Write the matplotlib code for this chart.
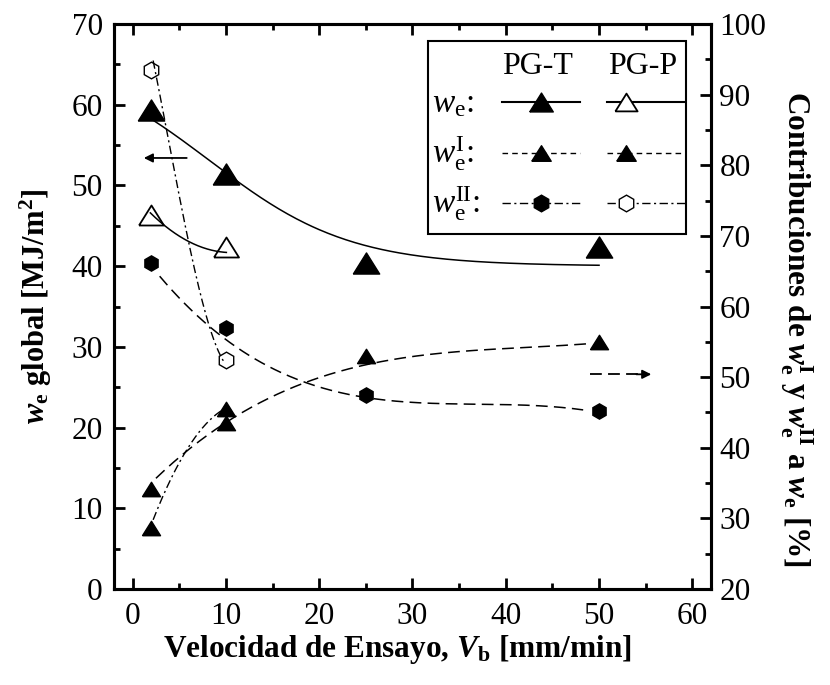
import numpy as np
import matplotlib
matplotlib.use('Agg')
import matplotlib.pyplot as plt
from matplotlib.patches import Rectangle

plt.rcParams['font.family'] = ['Liberation Serif', 'DejaVu Serif']
plt.rcParams['mathtext.fontset'] = 'custom'
plt.rcParams['mathtext.rm'] = 'Liberation Serif'
plt.rcParams['mathtext.it'] = 'Liberation Serif:italic'
plt.rcParams['mathtext.bf'] = 'Liberation Serif:bold'
plt.rcParams['mathtext.bfit'] = 'Liberation Serif:italic:bold'
plt.rcParams['lines.scale_dashes'] = False

# measured points
speed_T = [2, 10, 25, 50]
speed_P = [2, 10]
we_T = [59.4, 51.4, 40.4, 42.4]
we_P = [46.3, 42.4]
weI_T = [34.2, 43.5, 53.0, 55.0]
weII_T = [66.2, 57.0, 47.5, 45.2]
weI_P = [28.6, 45.5]
weII_P = [93.5, 52.4]

# fit lines of the original
fit_we_T_x = [2.2, 10, 21.1, 26.5, 31.8, 37.2, 50]
fit_we_T_y = [58.1, 51.5, 44.1, 42.1, 40.9, 40.6, 40.2]
fit_we_P_x = [1.9, 6.1, 10.05]
fit_we_P_y = [46.6, 43.0, 41.7]
fit_weI_T_x = [2.5, 5.8, 10, 11.8, 19, 26.5, 37.2, 48.7]
fit_weI_T_y = [35.7, 39.4, 43.7, 45.1, 49.4, 52.1, 53.9, 54.7]
fit_weII_T_x = [2.9, 8.3, 10, 19, 26.5, 37.2, 48.3]
fit_weII_T_y = [64.7, 56.7, 54.8, 49.6, 47.1, 45.7, 45.5]
fit_weI_P_x = [2.2, 5.8, 9.7]
fit_weI_P_y = [29.8, 39.7, 45.4]
fit_weII_P_x = [2.2, 2.8, 7.2, 8.3, 9.9]
fit_weII_P_y = [94.9, 90.7, 62.3, 56.7, 52.0]

DASH = (0, (8.5, 4.5))
DASHDOT = (0, (6, 2.5, 1.5, 2.5))


def smooth(xs, ys, deg):
    c = np.polyfit(xs, ys, deg)
    xx = np.linspace(xs[0], xs[-1], 200)
    return xx, np.polyval(c, xx)


def boltzmann(xs, ys):
    # sigmoidal decay, best x0/dx by grid search, A1/A2 by least squares
    xs = np.asarray(xs, float)
    ys = np.asarray(ys, float)
    best = None
    for x0 in np.linspace(-20, 40, 241):
        for dx in np.linspace(2, 30, 113):
            s = 1 / (1 + np.exp((xs - x0) / dx))
            A = np.column_stack([s, 1 - s])
            coef, *_ = np.linalg.lstsq(A, ys, rcond=None)
            err = np.sum((A @ coef - ys) ** 2)
            if best is None or err < best[0]:
                best = (err, x0, dx, coef)
    _, x0, dx, coef = best
    xx = np.linspace(xs[0], xs[-1], 200)
    s = 1 / (1 + np.exp((xx - x0) / dx))
    return xx, coef[0] * s + coef[1] * (1 - s)


fig = plt.figure(figsize=(8.3, 6.85), dpi=100)
ax = fig.add_axes([0.1373, 0.1401, 0.7193, 0.8249])
ax2 = ax.twinx()

# left axis: global we
xx, yy = boltzmann(fit_we_T_x, fit_we_T_y)
ax.plot(xx, yy, '-', color='k', lw=1.1)
xx, yy = smooth(fit_we_P_x, fit_we_P_y, 2)
ax.plot(xx, yy, '-', color='k', lw=1.1)

tri = [(-1, -0.8), (1, -0.8), (0, 0.8), (-1, -0.8)]
ax.plot(speed_T, we_T, ls='none', marker=tri, ms=19, color='k', zorder=5)
ax.plot(speed_P, we_P, ls='none', marker=tri, ms=18, mfc='none', mec='k',
        mew=1.3, zorder=5)

# right axis: contributions
xx, yy = smooth(fit_weI_T_x, fit_weI_T_y, 3)
ax2.plot(xx, yy, color='k', lw=1.1, ls=DASH)
xx, yy = smooth(fit_weII_T_x, fit_weII_T_y, 3)
ax2.plot(xx, yy, color='k', lw=1.1, ls=DASH)
xx, yy = smooth(fit_weI_P_x, fit_weI_P_y, 2)
ax2.plot(xx, yy, color='k', lw=1.0, ls=DASHDOT)
xx, yy = smooth(fit_weII_P_x, fit_weII_P_y, 3)
ax2.plot(xx, yy, color='k', lw=1.0, ls=DASHDOT)

ax2.plot(speed_T, weI_T, ls='none', marker=tri, ms=13, color='k', zorder=5)
ax2.plot(speed_P, weI_P, ls='none', marker=tri, ms=13, color='k', zorder=5)
ax2.plot(speed_T, weII_T, ls='none', marker='h', ms=11, color='k', zorder=5)
ax2.plot(speed_P, weII_P, ls='none', marker='h', ms=12, mfc='none', mec='k',
         mew=1.0, zorder=5)

# axis arrows
ax.annotate('', xy=(1.2, 53.4), xytext=(5.8, 53.4),
            arrowprops=dict(arrowstyle='-|>', color='k', lw=1.3,
                            mutation_scale=13, shrinkA=0, shrinkB=0))
ax2.plot([49.0, 54.2], [50.4, 50.4], color='k', lw=1.3, ls=DASH)
ax2.annotate('', xy=(55.6, 50.4), xytext=(54.0, 50.4),
             arrowprops=dict(arrowstyle='-|>', color='k', lw=1.3,
                             mutation_scale=13, shrinkA=0, shrinkB=0))

ax.set_xlim(-2, 62)
ax.set_ylim(0, 70)
ax2.set_ylim(20, 100)
ax.set_xticks(np.arange(0, 61, 10))
ax.set_xticks(np.arange(-0, 61, 5), minor=True)
ax.set_yticks(np.arange(0, 71, 10))
ax.set_yticks(np.arange(0, 71, 5), minor=True)
ax2.set_yticks(np.arange(20, 101, 10))
ax2.set_yticks(np.arange(20, 101, 5), minor=True)

for a in (ax, ax2):
    for s in a.spines.values():
        s.set_linewidth(2.2)
ax.tick_params(which='both', direction='in', top=True, right=False,
               labelsize=22.5, width=2.0)
ax.tick_params(which='major', length=8)
ax.tick_params(which='minor', length=4.5)
ax.tick_params(axis='x', pad=9)
ax.tick_params(axis='y', pad=8)
ax2.tick_params(which='both', direction='in', labelsize=22.5, width=2.0, pad=6)
ax2.tick_params(which='major', length=8)
ax2.tick_params(which='minor', length=4.5)

ax.set_xlabel(r'Velocidad de Ensayo, $\mathbfit{V}_\mathbf{b}$ [mm/min]',
              fontsize=22.5, fontweight='bold')
ax.xaxis.set_label_coords(0.475, -0.078)
ax.set_ylabel(r'$\mathbfit{w}_\mathbf{e}$ global [MJ/m$^\mathbf{2}$]',
              fontsize=22, fontweight='bold')
ax.yaxis.set_label_coords(-0.10, 0.5)
ax2.set_ylabel(r'Contribuciones de $\mathbfit{w}_\mathbf{e}^\mathbf{I}$ y '
               r'$\mathbfit{w}_\mathbf{e}^\mathbf{II}$ a $\mathbfit{w}_\mathbf{e}$ [%]',
               fontsize=22.5, fontweight='bold', rotation=-90, va='bottom')
ax2.yaxis.set_label_coords(1.112, 0.46)

# hand-made legend box
T = ax.transAxes
ax.add_patch(Rectangle((0.526, 0.628), 0.432, 0.342, transform=T, fill=False,
                       lw=1.5, ec='k', zorder=6))
ax.text(0.710, 0.925, 'PG-T', transform=T, fontsize=23, ha='center',
        va='center', zorder=7)
ax.text(0.886, 0.925, 'PG-P', transform=T, fontsize=23, ha='center',
        va='center', zorder=7)
row_y = [0.862, 0.772, 0.683]
row_lab = [r'$\mathit{w}_\mathrm{e}$:', r'$\mathit{w}_\mathrm{e}^\mathrm{I}$:',
           r'$\mathit{w}_\mathrm{e}^\mathrm{II}$:']
for y, lab in zip(row_y, row_lab):
    ax.text(0.532, y - 0.018, lab, transform=T, fontsize=24, ha='left',
            va='baseline', zorder=7)
ax.plot([0.650, 0.781], [row_y[0]] * 2, '-', color='k', lw=1.5, transform=T)
ax.plot([0.826, 0.957], [row_y[0]] * 2, '-', color='k', lw=1.5, transform=T)
ax.plot([0.715], [row_y[0]], marker=tri, ms=17, color='k', transform=T, zorder=7)
ax.plot([0.858], [row_y[0]], marker=tri, ms=16, mfc='w', mec='k', mew=1.3,
        transform=T, zorder=7)
ax.plot([0.650, 0.781], [row_y[1]] * 2, color='k', lw=1.0, ls=(0, (4, 3)),
        transform=T)
ax.plot([0.826, 0.957], [row_y[1]] * 2, color='k', lw=1.0, ls=(0, (4, 3)),
        transform=T)
ax.plot([0.715, 0.858], [row_y[1]] * 2, ls='none', marker=tri, ms=14,
        color='k', transform=T, zorder=7)
ax.plot([0.650, 0.781], [row_y[2]] * 2, color='k', lw=1.0, ls=DASHDOT,
        transform=T)
ax.plot([0.826, 0.957], [row_y[2]] * 2, color='k', lw=1.0, ls=DASHDOT,
        transform=T)
ax.plot([0.715], [row_y[2]], marker='h', ms=12, color='k', transform=T,
        zorder=7)
ax.plot([0.858], [row_y[2]], marker='h', ms=12, mfc='w', mec='k', mew=1.0,
        transform=T, zorder=7)

fig.savefig('out.png', dpi=100)
